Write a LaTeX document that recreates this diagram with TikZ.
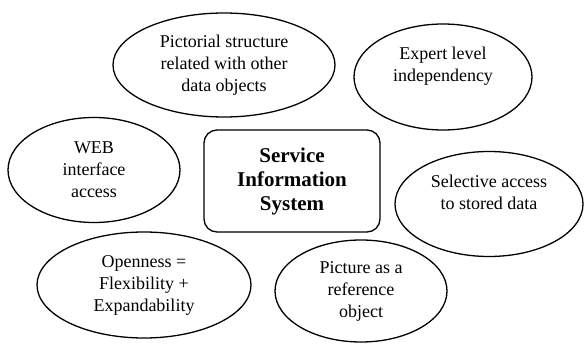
\documentclass[tikz,border=0pt]{standalone}
\usepackage{fontspec}
\setmainfont{Liberation Serif}
\usetikzlibrary{shapes.geometric}
\tikzset{
  bubble/.style={draw,ellipse,line width=1.3pt,inner sep=0pt,align=center,
    font=\fontsize{18}{22}\selectfont},
  centerbox/.style={draw,rectangle,rounded corners=13pt,line width=1.3pt,
    minimum width=176pt,minimum height=102pt,align=center,
    font=\fontsize{21}{24}\selectfont\bfseries}
}
\begin{document}
\begin{tikzpicture}[x=1pt,y=-1pt]
	\useasboundingbox (0,0) rectangle (584,344);
	%
	\node[centerbox] (sis) at (292,181) {Service\\Information\\System};
	%
	\node[bubble,minimum width=222pt,minimum height=104pt] (e1) at (224,65)
		{Pictorial structure\\related with other\\data objects};
	\node[bubble,minimum width=178pt,minimum height=106pt,text depth=26pt] (e2) at (443,77)
		{Expert level\\independency};
	\node[bubble,minimum width=172pt,minimum height=105pt] (e3) at (94,170)
		{WEB\\interface\\access};
	\node[bubble,minimum width=188pt,minimum height=105pt,text depth=24pt] (e4) at (489,204)
		{Selective access\\to stored data};
	\node[bubble,minimum width=214pt,minimum height=106pt] (e5) at (144,285)
		{Openness =\\Flexibility +\\Expandability};
	\node[bubble,minimum width=172pt,minimum height=102pt] (e6) at (361,291)
		{Picture as a\\reference\\object};
\end{tikzpicture}
\end{document}
